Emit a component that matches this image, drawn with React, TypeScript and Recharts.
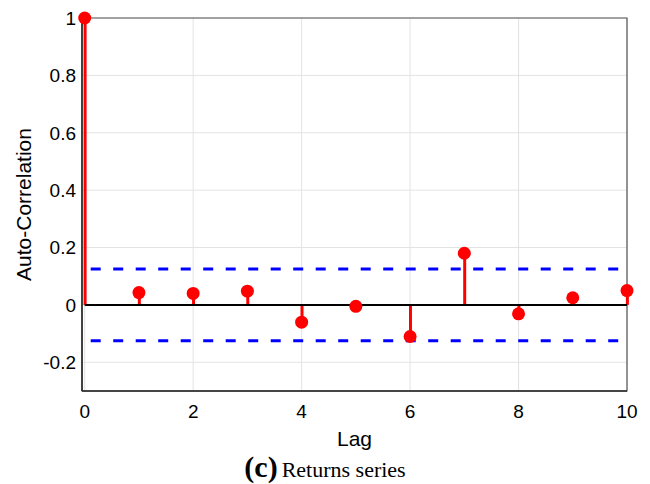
import React from "react";
import {
  ComposedChart,
  Bar,
  Scatter,
  XAxis,
  YAxis,
  CartesianGrid,
  ReferenceLine,
  ReferenceArea,
  Label,
} from "recharts";

const lags = [0, 1, 2, 3, 4, 5, 6, 7, 8, 9, 10];
const acf = [1, 0.043, 0.04, 0.048, -0.06, -0.005, -0.11, 0.18, -0.031, 0.025, 0.05];
const bound = 0.125;
const xTicks = [0, 2, 4, 6, 8, 10];
const yTicks = [-0.2, 0, 0.2, 0.4, 0.6, 0.8, 1];

const data = lags.map((lag, i) => ({ lag, value: acf[i] }));

const sans = "Liberation Sans, Arial, sans-serif";
const serif = "Liberation Serif, Times New Roman, serif";

export default function App() {
  return (
    <div style={{ position: "absolute", left: 0, top: 0, width: 650, height: 484, background: "#fff" }}>
      <ComposedChart
        width={650}
        height={484}
        data={data}
        margin={{ top: 18, right: 23, left: 0, bottom: 33 }}
      >
        <CartesianGrid stroke="#e3e3e3" strokeWidth={1} />
        <XAxis
          dataKey="lag"
          type="number"
          domain={[-0.05, 10]}
          ticks={xTicks}
          height={60}
          tickLine={false}
          tickSize={0}
          tickMargin={14}
          axisLine={{ stroke: "#262626", strokeWidth: 1.5 }}
          tick={{ fill: "#000", fontSize: 19, fontFamily: sans }}
        >
          <Label
            content={() => (
              <text x={354.5} y={446} textAnchor="middle" fontSize={21} fontFamily={sans} fill="#000">
                Lag
              </text>
            )}
          />
        </XAxis>
        <YAxis
          type="number"
          domain={[-0.3, 1]}
          ticks={yTicks}
          width={82}
          tickLine={false}
          tickSize={0}
          tickMargin={6}
          axisLine={{ stroke: "#262626", strokeWidth: 1.5 }}
          tick={{ fill: "#000", fontSize: 19, fontFamily: sans }}
        >
          <Label
            content={() => (
              <text
                x={24}
                y={204.5}
                dy="0.35em"
                textAnchor="middle"
                fontSize={21}
                fontFamily={sans}
                fill="#000"
                transform="rotate(-90 24 204.5)"
              >
                Auto-Correlation
              </text>
            )}
          />
        </YAxis>
        <ReferenceArea
          x1={-0.05}
          x2={10}
          y1={-0.3}
          y2={1}
          fill="none"
          stroke="#555"
          strokeWidth={1.2}
          ifOverflow="visible"
        />
        <ReferenceLine
          segment={[{ x: 0, y: 0 }, { x: 10, y: 0 }]}
          stroke="#000"
          strokeWidth={2}
        />
        <ReferenceLine
          segment={[{ x: 0, y: bound }, { x: 10, y: bound }]}
          stroke="#0000ff"
          strokeWidth={3}
          strokeDasharray="10 12.5"
          strokeDashoffset={16.5}
        />
        <ReferenceLine
          segment={[{ x: 0, y: -bound }, { x: 10, y: -bound }]}
          stroke="#0000ff"
          strokeWidth={3}
          strokeDasharray="10 12.5"
          strokeDashoffset={16.5}
        />
        <Bar dataKey="value" fill="#ff0000" barSize={3} isAnimationActive={false} />
        <Scatter
          dataKey="value"
          fill="#ff0000"
          isAnimationActive={false}
          shape={(p: any) => <circle cx={p.cx} cy={p.cy} r={6.5} fill="#ff0000" />}
        />
      </ComposedChart>
      <div
        style={{
          position: "absolute",
          left: 0,
          top: 450,
          width: 650,
          textAlign: "center",
          fontFamily: serif,
          color: "#000",
          lineHeight: "34px",
          whiteSpace: "nowrap",
        }}
      >
        <span style={{ display: "inline-block", width: 644 }}>
          <b style={{ fontSize: 30 }}>(c)</b> <span style={{ fontSize: 22 }}>Returns series</span>
        </span>
      </div>
    </div>
  );
}
